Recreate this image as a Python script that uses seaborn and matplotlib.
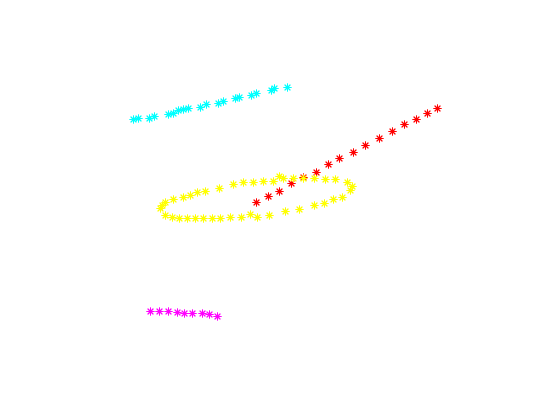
import pandas as pd
import matplotlib
matplotlib.use("Agg")
import matplotlib.pyplot as plt
import seaborn as sns

# point positions (pixel-like units, y grows downward)
cyan_x = [133, 138, 149, 154, 168, 173, 178, 183, 188, 200, 206, 218, 223, 235, 239, 251, 256, 271, 274, 287]
cyan_y = [119, 118, 118, 116, 114, 113, 110, 109, 108, 107, 104, 103, 101, 98, 97, 95, 93, 90, 88, 87]

red_x = [256, 268, 279, 291, 303, 316, 328, 339, 353, 365, 379, 392, 404, 416, 427, 437]
red_y = [202, 196, 191, 183, 177, 172, 164, 158, 152, 145, 138, 131, 124, 119, 113, 108]

yellow_x = [160, 162, 165, 173, 183, 190, 197, 205, 219, 233, 243, 253, 263, 273, 279, 283,
            293, 303, 314, 325, 335, 347, 352, 350, 342, 333, 324, 314, 299, 285, 269, 257,
            250, 241, 230, 220, 212, 203, 195, 187, 179, 172, 165]
yellow_y = [208, 205, 202, 199, 197, 195, 192, 191, 188, 184, 182, 182, 181, 181, 176, 178,
            178, 178, 178, 179, 179, 182, 186, 190, 197, 199, 203, 205, 209, 211, 215, 217,
            214, 217, 217, 218, 218, 218, 218, 218, 218, 217, 215]

magenta_x = [150, 159, 168, 177, 184, 192, 202, 209, 217]
magenta_y = [311, 311, 311, 312, 313, 313, 313, 314, 316]

groups = ["cyan", "red", "yellow", "magenta"]
colors = ["#00ffff", "#ff0000", "#ffff00", "#ff00ff"]

frames = []
for name, xs, ys in zip(groups, [cyan_x, red_x, yellow_x, magenta_x],
                        [cyan_y, red_y, yellow_y, magenta_y]):
    frames.append(pd.DataFrame({"x": xs, "y": ys, "group": name}))
df = pd.concat(frames, ignore_index=True)

sns.set_style("white")
fig = plt.figure(figsize=(5.6, 4.2), dpi=100)
ax = fig.add_axes([0, 0, 1, 1])

for name, col in zip(groups, colors):
    sub = df[df["group"] == name]
    sns.scatterplot(data=sub, x="x", y="y", color=col, marker=(8, 2, 0),
                    s=26, linewidth=0.7, legend=False, ax=ax)

ax.set_xlim(0, 560)
ax.set_ylim(420, 0)
ax.set_axis_off()

fig.savefig("out.png", dpi=100, facecolor="white")
